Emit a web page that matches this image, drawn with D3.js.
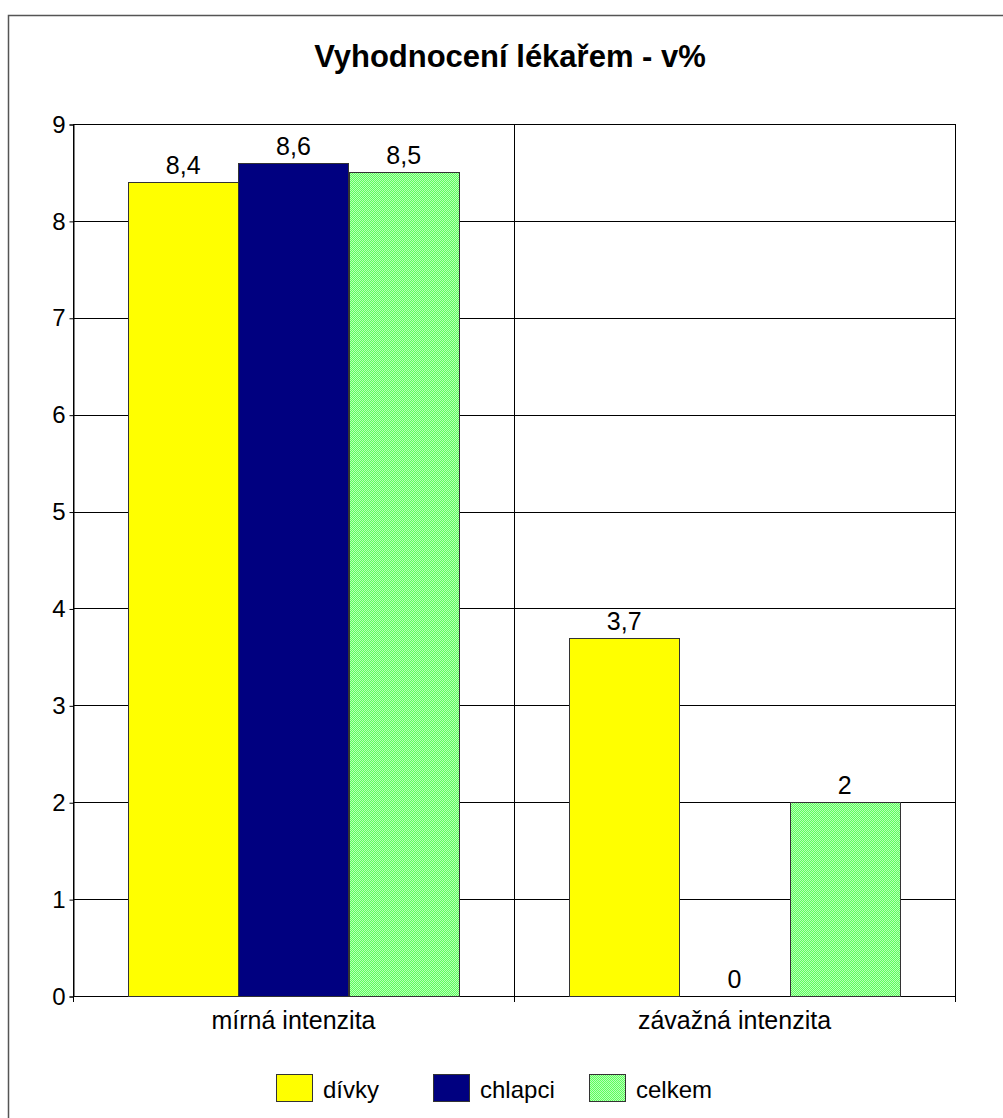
<!DOCTYPE html>
<html>
<head>
<meta charset="utf-8">
<script src="https://cdn.jsdelivr.net/npm/d3@7"></script>
<style>
    body { margin: 0; background: #fff; }
    svg { display: block; }
</style>
</head>
<body>
<svg id="main"></svg>
<script>
const width = 1003;
const height = 1118;

// data ---------------------------------------------
const categories = ['mírná intenzita', 'závažná intenzita'];
const seriesNames = ['dívky', 'chlapci', 'celkem'];
const divky = [8.4, 3.7];
const chlapci = [8.6, 0];
const celkem = [8.5, 2];
const yTicks = [0, 1, 2, 3, 4, 5, 6, 7, 8, 9];

const seriesValues = [divky, chlapci, celkem];
const fills = ['#FFFF00', '#000080', 'url(#greenDots)'];

const plot = { left: 73, right: 955, top: 124, bottom: 996 };
const font = '"Liberation Sans", Arial, sans-serif';

const svg = d3.select('svg#main')
    .attr('width', width)
    .attr('height', height);

// green dotted fill like the excel pattern
const defs = svg.append('defs');
const pat = defs.append('pattern')
    .attr('id', 'greenDots')
    .attr('width', 2)
    .attr('height', 2)
    .attr('patternUnits', 'userSpaceOnUse');
pat.append('rect').attr('width', 2).attr('height', 2).attr('fill', '#5CFF5C');
pat.append('rect').attr('width', 1).attr('height', 1).attr('fill', '#B8FFB8');
pat.append('rect').attr('x', 1).attr('y', 1).attr('width', 1).attr('height', 1).attr('fill', '#B8FFB8');

// outer frame (runs past the right and bottom edge)
svg.append('rect')
    .attr('x', 8.5)
    .attr('y', 15.5)
    .attr('width', 1010)
    .attr('height', 1120)
    .attr('fill', 'none')
    .attr('stroke', '#555')
    .attr('stroke-width', 1.5);

svg.append('text')
    .text('Vyhodnocení lékařem - v%')
    .attr('x', 510)
    .attr('y', 67)
    .attr('text-anchor', 'middle')
    .style('font-family', font)
    .style('font-size', '31px')
    .style('font-weight', 'bold');

const y = d3.scaleLinear()
    .domain([0, 9])
    .range([plot.bottom, plot.top]);

const x0 = d3.scaleBand()
    .domain(categories)
    .range([plot.left, plot.right]);

// 100% gap width: half a bar on each side
const x1 = d3.scaleBand()
    .domain(seriesNames)
    .range([0, x0.bandwidth()])
    .paddingOuter(0.5)
    .paddingInner(0);

// horizontal gridlines
svg.append('g')
    .selectAll('line')
    .data(yTicks)
    .enter()
    .append('line')
    .attr('x1', plot.left)
    .attr('x2', plot.right)
    .attr('y1', d => Math.round(y(d)) + 0.5)
    .attr('y2', d => Math.round(y(d)) + 0.5)
    .attr('stroke', '#000')
    .attr('stroke-width', 1);

// vertical gridlines at category borders
const borders = categories.map(c => x0(c)).concat([plot.right]);
svg.append('g')
    .selectAll('line')
    .data(borders)
    .enter()
    .append('line')
    .attr('x1', d => Math.round(d) + 0.5)
    .attr('x2', d => Math.round(d) + 0.5)
    .attr('y1', plot.top)
    .attr('y2', plot.bottom + 6)
    .attr('stroke', '#000')
    .attr('stroke-width', 1);

// y axis
const yAxis = svg.append('g')
    .attr('transform', `translate(${plot.left + 0.5},0.5)`)
    .call(d3.axisLeft(y).tickValues(yTicks).tickSize(4).tickPadding(4).tickFormat(d3.format('d')));
yAxis.select('.domain').attr('stroke', '#000');
yAxis.selectAll('.tick line').attr('stroke', '#000');
yAxis.selectAll('.tick text')
    .style('font-family', font)
    .style('font-size', '24px')
    .attr('fill', '#000');

// category labels
svg.append('g')
    .selectAll('text')
    .data(categories)
    .enter()
    .append('text')
    .text(d => d)
    .attr('x', d => x0(d) + x0.bandwidth() / 2)
    .attr('y', 1029)
    .attr('text-anchor', 'middle')
    .style('font-family', font)
    .style('font-size', '25px');

// bars (absolute pixel positions so the pattern lines up the same in every bar)
const barData = [];
categories.forEach((c, ci) => {
    seriesNames.forEach((s, si) => {
        barData.push({
            cat: c,
            series: s,
            value: seriesValues[si][ci],
            fill: fills[si],
        });
    });
});
const bx = d => Math.round(x0(d.cat) + x1(d.series));
const bw = Math.round(x1.bandwidth());

const bars = svg.append('g')
    .selectAll('g')
    .data(barData)
    .enter()
    .append('g');

bars.append('rect')
    .attr('x', d => bx(d))
    .attr('y', d => Math.round(y(d.value)))
    .attr('width', bw)
    .attr('height', d => Math.round(y(0)) - Math.round(y(d.value)))
    .attr('fill', d => d.fill)
    .attr('shape-rendering', 'crispEdges');

bars.filter(d => d.value > 0)
    .append('rect')
    .attr('x', d => bx(d) + 0.5)
    .attr('y', d => Math.round(y(d.value)) + 0.5)
    .attr('width', bw)
    .attr('height', d => Math.round(y(0)) - Math.round(y(d.value)))
    .attr('fill', 'none')
    .attr('stroke', '#333')
    .attr('stroke-width', 1);

bars.append('text')
    .text(d => String(d.value).replace('.', ','))
    .attr('x', d => x0(d.cat) + x1(d.series) + x1.bandwidth() / 2)
    .attr('y', d => y(d.value) - 8)
    .attr('text-anchor', 'middle')
    .style('font-family', font)
    .style('font-size', '25px');

// legend
const legendX = [276, 433, 589];
const legend = svg.append('g')
    .selectAll('g')
    .data(seriesNames)
    .enter()
    .append('g')
    .attr('transform', (d, i) => `translate(${legendX[i]},1074)`);
legend.append('rect')
    .attr('width', 37)
    .attr('height', 28)
    .attr('fill', (d, i) => fills[i])
    .attr('shape-rendering', 'crispEdges');
legend.append('rect')
    .attr('x', 0.5)
    .attr('y', 0.5)
    .attr('width', 36)
    .attr('height', 27)
    .attr('fill', 'none')
    .attr('stroke', '#333');
legend.append('text')
    .text(d => d)
    .attr('x', 47)
    .attr('y', 24)
    .style('font-family', font)
    .style('font-size', '24px');
</script>
</body>
</html>
